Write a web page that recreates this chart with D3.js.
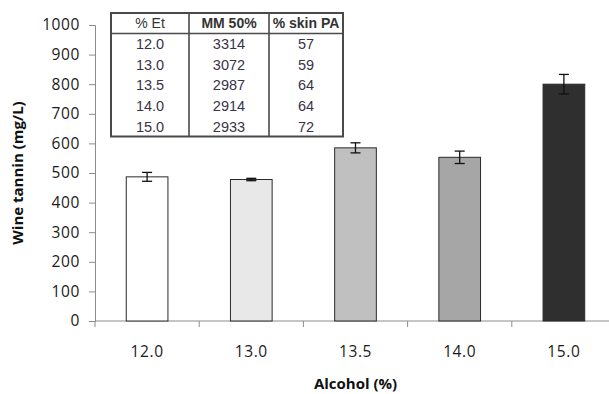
<!DOCTYPE html>
<html>
<head>
<meta charset="utf-8">
<script src="https://cdn.jsdelivr.net/npm/d3@7"></script>
<style>
  html, body { margin: 0; padding: 0; background: #fff; }
  svg { display: block; }
</style>
</head>
<body>
<svg id="chart" width="609" height="394"></svg>
<script>
// Alcohol levels and mean wine tannin with standard error
const categories = ["12.0", "13.0", "13.5", "14.0", "15.0"];
const tannin = [487, 478, 585, 553, 800];
const tanninErr = [15, 4, 17, 21, 33];
const barFills = ["#ffffff", "#e8e8e8", "#c0c0c0", "#a6a6a6", "#2f2f2f"];
const yTicks = [0, 100, 200, 300, 400, 500, 600, 700, 800, 900, 1000];

// Inset table values
const tableHeaders = ["% Et", "MM 50%", "% skin PA"];
const tableEt = ["12.0", "13.0", "13.5", "14.0", "15.0"];
const tableMM = ["3314", "3072", "2987", "2914", "2933"];
const tableSkinPA = ["57", "59", "64", "64", "72"];

const svg = d3.select("#chart");
const plot = { left: 95, right: 616, top: 25, bottom: 321 };

const x = d3.scaleBand().domain(categories).range([plot.left, plot.right]).padding(0);
const y = d3.scaleLinear().domain([0, 1000]).range([plot.bottom, plot.top]);
const barW = x.bandwidth() * 0.4;

const tickFont = "'Open Sans', sans-serif";
const axisColor = "#8c8c8c";

// Y axis
const yAxis = svg.append("g")
  .attr("transform", `translate(${plot.left},0)`)
  .call(d3.axisLeft(y).tickValues(yTicks).tickSize(6).tickPadding(9).tickFormat(d3.format("d")));
yAxis.select(".domain").attr("stroke", axisColor);
yAxis.selectAll(".tick line").attr("stroke", axisColor);
yAxis.selectAll(".tick text")
  .attr("fill", "#1a1a1a")
  .style("font-family", tickFont)
  .style("font-size", "15.5px")
  .style("letter-spacing", "0.6px");

// X axis: ticks sit on category boundaries
const xAxisG = svg.append("g").attr("transform", `translate(0,${plot.bottom})`);
xAxisG.append("line")
  .attr("x1", plot.left).attr("x2", plot.right)
  .attr("y1", 0).attr("y2", 0)
  .attr("stroke", axisColor);
const boundaries = categories.map(c => x(c)).concat([x(categories[categories.length - 1]) + x.bandwidth()]);
xAxisG.selectAll("line.tk").data(boundaries).enter().append("line")
  .attr("class", "tk")
  .attr("x1", d => d).attr("x2", d => d)
  .attr("y1", 0).attr("y2", 6)
  .attr("stroke", axisColor);
xAxisG.selectAll("text").data(categories).enter().append("text")
  .attr("x", d => x(d) + x.bandwidth() / 2)
  .attr("y", 36)
  .attr("text-anchor", "middle")
  .attr("fill", "#1a1a1a")
  .style("font-family", tickFont)
  .style("font-size", "15.5px")
  .style("letter-spacing", "0.6px")
  .text(d => d);

// Bars
svg.append("g").selectAll("rect").data(categories).enter().append("rect")
  .attr("x", d => x(d) + (x.bandwidth() - barW) / 2)
  .attr("y", (d, i) => y(tannin[i]))
  .attr("width", barW)
  .attr("height", (d, i) => y(0) - y(tannin[i]))
  .attr("fill", (d, i) => barFills[i])
  .attr("stroke", "#2a2a2a")
  .attr("stroke-width", 1);

// Error bars
const err = svg.append("g").attr("stroke", "#111").attr("stroke-width", 1.3);
categories.forEach((c, i) => {
  const cx = x(c) + x.bandwidth() / 2;
  const hi = y(tannin[i] + tanninErr[i]);
  const lo = y(tannin[i] - tanninErr[i]);
  err.append("line").attr("x1", cx).attr("x2", cx).attr("y1", hi).attr("y2", lo);
  err.append("line").attr("x1", cx - 5).attr("x2", cx + 5).attr("y1", hi).attr("y2", hi);
  err.append("line").attr("x1", cx - 5).attr("x2", cx + 5).attr("y1", lo).attr("y2", lo);
});

// Axis titles
svg.append("text")
  .attr("x", (plot.left + plot.right) / 2)
  .attr("y", 389)
  .attr("text-anchor", "middle")
  .attr("fill", "#111")
  .style("font-family", tickFont)
  .style("font-size", "15px")
  .style("font-weight", "bold")
  .text("Alcohol (%)");

svg.append("text")
  .attr("transform", `translate(23,${(plot.top + plot.bottom) / 2}) rotate(-90)`)
  .attr("text-anchor", "middle")
  .attr("fill", "#111")
  .style("font-family", tickFont)
  .style("font-size", "15px")
  .style("font-weight", "bold")
  .text("Wine tannin (mg/L)");

// Inset table
const tbl = { x: 111, y: 13, colX: [111, 189, 269, 343], headerH: 20.5, rowH: 20.6 };
const tblH = tbl.headerH + tableEt.length * tbl.rowH;
const tg = svg.append("g");
tg.append("rect")
  .attr("x", tbl.x).attr("y", tbl.y)
  .attr("width", tbl.colX[3] - tbl.colX[0]).attr("height", tblH)
  .attr("fill", "#fff").attr("stroke", "#4a4a4a").attr("stroke-width", 2);
tg.append("line")
  .attr("x1", tbl.colX[0]).attr("x2", tbl.colX[3])
  .attr("y1", tbl.y + tbl.headerH).attr("y2", tbl.y + tbl.headerH)
  .attr("stroke", "#4a4a4a").attr("stroke-width", 1.6);
[1, 2].forEach(k => {
  tg.append("line")
    .attr("x1", tbl.colX[k]).attr("x2", tbl.colX[k])
    .attr("y1", tbl.y).attr("y2", tbl.y + tblH)
    .attr("stroke", "#4a4a4a").attr("stroke-width", 1.6);
});
const colCenter = k => (tbl.colX[k] + tbl.colX[k + 1]) / 2;
const tableFont = "'Liberation Sans', Arial, sans-serif";
tableHeaders.forEach((h, k) => {
  tg.append("text")
    .attr("x", colCenter(k))
    .attr("y", tbl.y + tbl.headerH / 2 + 5)
    .attr("text-anchor", "middle")
    .attr("fill", "#333")
    .style("font-family", tableFont)
    .style("font-size", "14px")
    .style("font-weight", k === 0 ? "normal" : "bold")
    .text(h);
});
const columns = [tableEt, tableMM, tableSkinPA];
columns.forEach((col, k) => {
  col.forEach((v, r) => {
    tg.append("text")
      .attr("x", colCenter(k))
      .attr("y", tbl.y + tbl.headerH + r * tbl.rowH + tbl.rowH / 2 + 5.3)
      .attr("text-anchor", "middle")
      .attr("fill", "#3a3346")
      .style("font-family", tableFont)
      .style("font-size", "14.5px")
      .text(v);
  });
});
</script>
</body>
</html>
